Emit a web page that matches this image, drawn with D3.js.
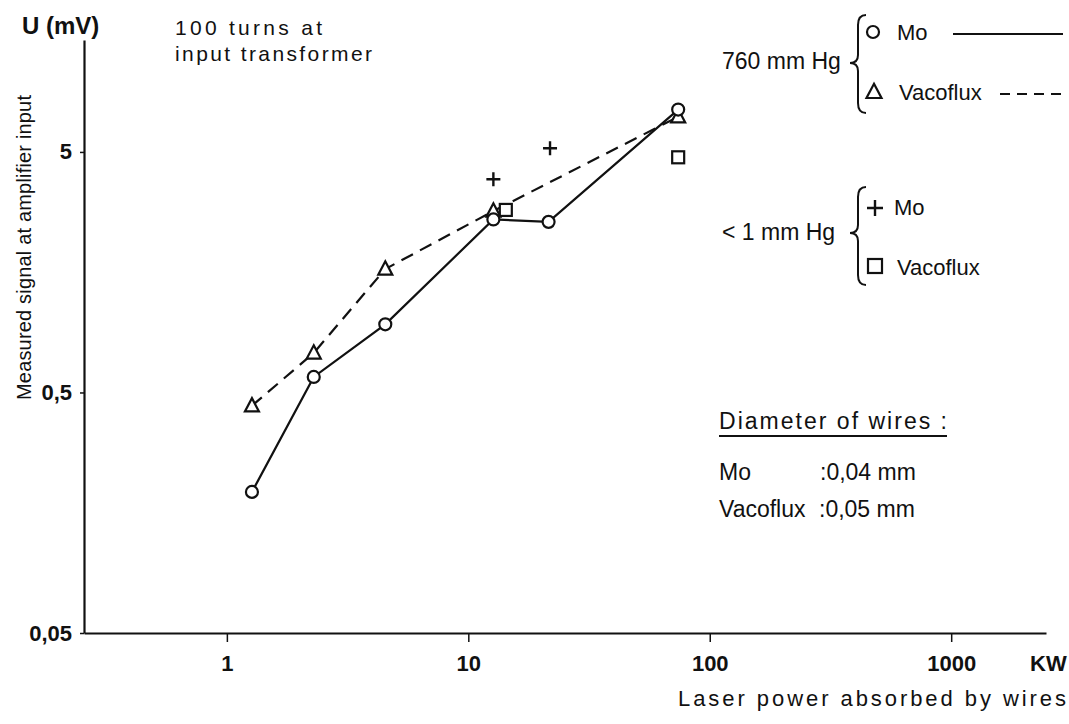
<!DOCTYPE html>
<html>
<head>
<meta charset="utf-8">
<script src="https://cdn.jsdelivr.net/npm/d3@7"></script>
<style>
  html, body { margin: 0; padding: 0; background: #fff; }
  svg { display: block; }
  text { font-family: "Liberation Sans", Arial, sans-serif; fill: #111; }
</style>
</head>
<body>
<svg id="chart" width="1069" height="724"></svg>
<script>
// ---------- data ----------
const xTickValues = [1, 10, 100, 1000];
const xTickLabels = ["1", "10", "100", "1000"];
const yTickValues = [0.05, 0.5, 5];
const yTickLabels = ["0,05", "0,5", "5"];

// 760 mm Hg, Mo (circles, solid line)
const moAtmX = [1.27, 2.29, 4.53, 12.7, 21.5, 74];
const moAtmY = [0.193, 0.58, 0.96, 2.62, 2.56, 7.5];
// 760 mm Hg, Vacoflux (triangles, dashed line)
const vacAtmX = [1.27, 2.29, 4.53, 12.7, 74];
const vacAtmY = [0.44, 0.73, 1.63, 2.84, 7.0];
// < 1 mm Hg, Mo (plus)
const moVacX = [12.7, 21.8];
const moVacY = [3.85, 5.18];
// < 1 mm Hg, Vacoflux (squares)
const vacVacX = [14.3, 74];
const vacVacY = [2.87, 4.75];

// ---------- layout ----------
const svg = d3.select("#chart");
const x = d3.scaleLog().domain([0.256, 2470]).range([84, 1046]);
const y = d3.scaleLog().domain([0.05, 14.6]).range([633, 40]);
const ink = "#111";

// axes
const xAxis = d3.axisBottom(x).tickValues(xTickValues)
  .tickFormat((d, i) => xTickLabels[i]).tickSize(9).tickSizeOuter(0).tickPadding(13);
const gx = svg.append("g").attr("transform", `translate(0,${y(0.05)})`).call(xAxis);
gx.select(".domain").attr("stroke", ink).attr("stroke-width", 2.2);
gx.selectAll(".tick line").attr("stroke", ink).attr("stroke-width", 1.5);
gx.selectAll(".tick text").attr("font-size", 22).attr("font-weight", "bold")
  .attr("font-family", "'Liberation Sans', Arial, sans-serif").attr("fill", ink);

const yAxis = d3.axisLeft(y).tickValues(yTickValues)
  .tickFormat((d, i) => yTickLabels[i]).tickSize(4).tickSizeOuter(0).tickPadding(8);
const gy = svg.append("g").attr("transform", `translate(${x(0.256)},0)`).call(yAxis);
gy.select(".domain").attr("stroke", ink).attr("stroke-width", 2.2);
gy.selectAll(".tick line").attr("stroke", ink).attr("stroke-width", 1.5);
gy.selectAll(".tick text").attr("font-size", 22).attr("font-weight", "bold")
  .attr("font-family", "'Liberation Sans', Arial, sans-serif").attr("fill", ink);

// axis titles and notes
svg.append("text").attr("x", 22).attr("y", 34).attr("font-size", 24).attr("font-weight", "bold").text("U (mV)");
svg.append("text").attr("x", 1030).attr("y", 671).attr("font-size", 22).attr("font-weight", "bold").text("KW");
svg.append("text").attr("x", 678).attr("y", 706).attr("font-size", 22)
  .attr("textLength", 388).attr("lengthAdjust", "spacing").text("Laser power absorbed by wires");
svg.append("text").attr("transform", "translate(31,400) rotate(-90)").attr("font-size", 20)
  .attr("textLength", 305).attr("lengthAdjust", "spacing").text("Measured signal at amplifier input");
svg.append("text").attr("x", 175).attr("y", 35).attr("font-size", 21)
  .attr("textLength", 147).attr("lengthAdjust", "spacing").text("100 turns at");
svg.append("text").attr("x", 175).attr("y", 61).attr("font-size", 21)
  .attr("textLength", 197).attr("lengthAdjust", "spacing").text("input transformer");

// ---------- lines ----------
const line = d3.line().x(d => x(d[0])).y(d => y(d[1]));
const moAtm = moAtmX.map((v, i) => [v, moAtmY[i]]);
const vacAtm = vacAtmX.map((v, i) => [v, vacAtmY[i]]);
const moVac = moVacX.map((v, i) => [v, moVacY[i]]);
const vacVac = vacVacX.map((v, i) => [v, vacVacY[i]]);

svg.append("path").datum(vacAtm).attr("d", line).attr("fill", "none")
  .attr("stroke", ink).attr("stroke-width", 2.2).attr("stroke-dasharray", "13,8");
svg.append("path").datum(moAtm).attr("d", line).attr("fill", "none")
  .attr("stroke", ink).attr("stroke-width", 2.2);

// ---------- markers ----------
const triPath = s => `M0,${-s * 0.55}L${s / 2},${s * 0.4}L${-s / 2},${s * 0.4}Z`;
function drawTri(g, cx, cy, s) {
  g.append("path").attr("d", triPath(s)).attr("transform", `translate(${cx},${cy})`)
    .attr("fill", "#fff").attr("stroke", ink).attr("stroke-width", 2.2);
}
function drawCircle(g, cx, cy, r) {
  g.append("circle").attr("cx", cx).attr("cy", cy).attr("r", r)
    .attr("fill", "#fff").attr("stroke", ink).attr("stroke-width", 2.2);
}
function drawSquare(g, cx, cy, s) {
  g.append("rect").attr("x", cx - s / 2).attr("y", cy - s / 2).attr("width", s).attr("height", s)
    .attr("fill", "#fff").attr("stroke", ink).attr("stroke-width", 2.2);
}
function drawPlus(g, cx, cy, h) {
  g.append("path").attr("d", `M${cx - h},${cy}H${cx + h}M${cx},${cy - h}V${cy + h}`)
    .attr("stroke", ink).attr("stroke-width", 2.4).attr("fill", "none");
}

const marks = svg.append("g");
vacAtm.forEach(d => drawTri(marks, x(d[0]), y(d[1]), 14));
moAtm.forEach(d => drawCircle(marks, x(d[0]), y(d[1]), 6));
vacVac.forEach(d => drawSquare(marks, x(d[0]), y(d[1]), 12));
moVac.forEach(d => drawPlus(marks, x(d[0]), y(d[1]), 7));

// ---------- legend ----------
function brace(g, xl, xr, top, bottom, mid) {
  const xm = (xl + xr) / 2;
  const p = `M${xr},${top} Q${xm},${top} ${xm},${top + 10} L${xm},${mid - 8} Q${xm},${mid} ${xl},${mid} Q${xm},${mid} ${xm},${mid + 8} L${xm},${bottom - 10} Q${xm},${bottom} ${xr},${bottom}`;
  g.append("path").attr("d", p).attr("fill", "none").attr("stroke", ink).attr("stroke-width", 2);
}
const lg = svg.append("g");
lg.append("text").attr("x", 722).attr("y", 69).attr("font-size", 23).text("760 mm Hg");
brace(lg, 850, 866, 15, 113, 63);
drawCircle(lg, 873, 32, 6);
lg.append("text").attr("x", 897).attr("y", 40).attr("font-size", 22).text("Mo");
lg.append("line").attr("x1", 953).attr("x2", 1063).attr("y1", 34).attr("y2", 34)
  .attr("stroke", ink).attr("stroke-width", 2);
drawTri(lg, 874, 92, 15);
lg.append("text").attr("x", 899).attr("y", 100).attr("font-size", 22).text("Vacoflux");
lg.append("line").attr("x1", 1000).attr("x2", 1063).attr("y1", 94).attr("y2", 94)
  .attr("stroke", ink).attr("stroke-width", 2).attr("stroke-dasharray", "10,7");

lg.append("text").attr("x", 722).attr("y", 240).attr("font-size", 23).text("< 1 mm Hg");
brace(lg, 850, 866, 187, 285, 233);
drawPlus(lg, 875, 208, 8);
lg.append("text").attr("x", 894).attr("y", 215).attr("font-size", 22).text("Mo");
drawSquare(lg, 875, 266, 14);
lg.append("text").attr("x", 897).attr("y", 275).attr("font-size", 22).text("Vacoflux");

// diameter note
svg.append("text").attr("x", 719).attr("y", 429).attr("font-size", 23)
  .attr("textLength", 228).attr("lengthAdjust", "spacing").text("Diameter of wires :");
svg.append("line").attr("x1", 719).attr("x2", 947).attr("y1", 436).attr("y2", 436)
  .attr("stroke", ink).attr("stroke-width", 2);
svg.append("text").attr("x", 719).attr("y", 480).attr("font-size", 23).text("Mo");
svg.append("text").attr("x", 820).attr("y", 480).attr("font-size", 23).text(":0,04 mm");
svg.append("text").attr("x", 719).attr("y", 517).attr("font-size", 23).text("Vacoflux");
svg.append("text").attr("x", 819).attr("y", 517).attr("font-size", 23).text(":0,05 mm");
</script>
</body>
</html>
